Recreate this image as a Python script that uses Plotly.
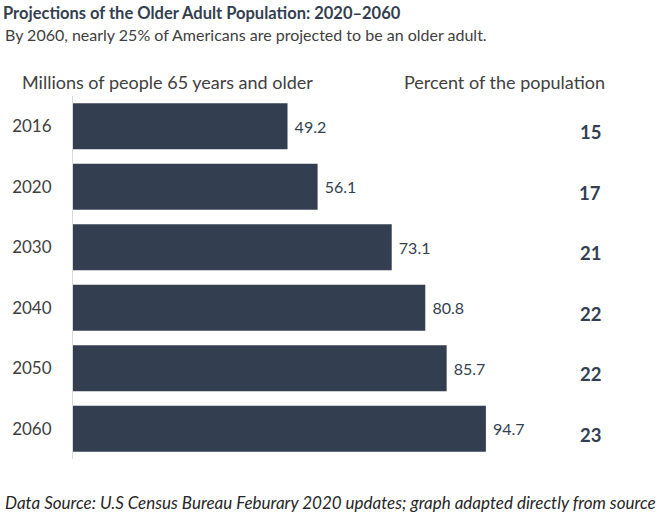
import plotly.graph_objects as go

years = ["2016", "2020", "2030", "2040", "2050", "2060"]
millions = [49.2, 56.1, 73.1, 80.8, 85.7, 94.7]
percent = [15, 17, 21, 22, 22, 23]

W, H = 660, 515
L, T, B = 73, 96, 56
plot_w = W - L
plot_h = H - T - B
px_per_unit = 4.36
xmax = plot_w / px_per_unit

dark = "#333F50"
grey = "#404040"
font = "Lato"


def px_x(p):
    return (p - L) / plot_w


def px_y(p):
    return (H - B - p) / plot_h


fig = go.Figure()
fig.add_bar(
    x=millions, y=years, orientation="h",
    marker=dict(color=dark, line=dict(width=0)),
    width=0.76,
    text=[f" {v:.1f}" for v in millions],
    textposition="outside",
    textfont=dict(family=font, size=16, color=dark),
    cliponaxis=False,
    hoverinfo="skip",
)

annos = []
# percent column, one per category (y given as category index)
for i, p in enumerate(percent):
    annos.append(dict(x=px_x(590), y=i, xref="paper", yref="y", xanchor="center",
                      text=f"<b>{p}</b>", showarrow=False, yshift=-6,
                      font=dict(family=font, size=18.5, color=dark)))

annos += [
    dict(x=px_x(3), y=px_y(35), xref="paper", yref="paper", xanchor="left", yanchor="middle",
         text="By 2060, nearly 25% of Americans are projected to be an older adult.",
         showarrow=False, font=dict(family=font, size=16, color=grey)),
    dict(x=px_x(20), y=px_y(82), xref="paper", yref="paper", xanchor="left", yanchor="middle",
         text="Millions of people 65 years and older",
         showarrow=False, font=dict(family=font, size=18, color=grey)),
    dict(x=px_x(402), y=px_y(82), xref="paper", yref="paper", xanchor="left", yanchor="middle",
         text="Percent of the population",
         showarrow=False, font=dict(family=font, size=18, color=grey)),
    dict(x=px_x(3), y=px_y(503), xref="paper", yref="paper", xanchor="left", yanchor="middle",
         text="<i>Data Source: U.S Census Bureau Feburary 2020 updates; graph adapted directly from source</i>",
         showarrow=False, font=dict(family=font, size=17, color="#262626")),
]

fig.update_layout(
    width=W, height=H,
    margin=dict(l=L, r=0, t=T, b=B),
    paper_bgcolor="white", plot_bgcolor="white",
    showlegend=False,
    title=dict(text="<b>Projections of the Older Adult Population: 2020\u20132060</b>",
               x=3 / W, xref="container", xanchor="left",
               y=1 - 13 / H, yref="container", yanchor="middle",
               font=dict(family=font, size=16.5, color=dark)),
    annotations=annos,
    xaxis=dict(range=[0, xmax], visible=False, fixedrange=True),
    yaxis=dict(type="category", range=[len(years) - 0.5, -0.5], showline=True,
               linecolor="#D9D9D9", linewidth=1,
               showgrid=False, ticks="", ticklabelstandoff=17,
               tickfont=dict(family=font, size=17, color=grey), fixedrange=True),
)

fig.write_html("out.html", config=dict(displayModeBar=False),
               post_script="document.body.style.margin='0';")
